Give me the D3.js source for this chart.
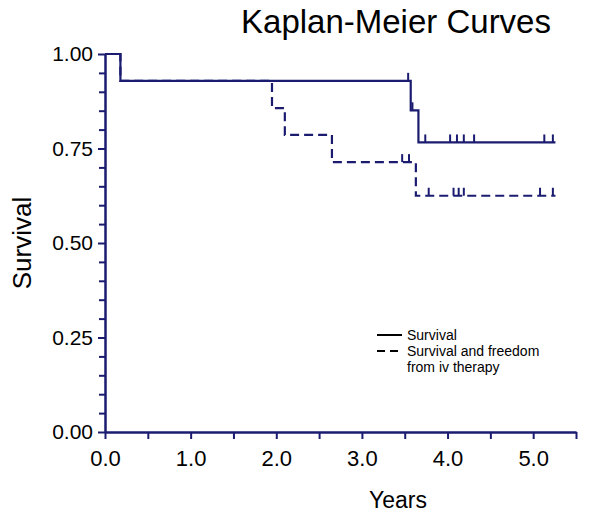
<!DOCTYPE html>
<html>
<head>
<meta charset="utf-8">
<script src="https://cdn.jsdelivr.net/npm/d3@7"></script>
<style>
  html, body { margin: 0; padding: 0; background: #fff; }
  svg { display: block; font-family: "Liberation Sans", Arial, sans-serif; }
</style>
</head>
<body>
<svg id="chart" width="601" height="522"></svg>
<script>
// ---- data ----
const solidTimes = [0, 0.18, 3.57, 3.66];
const solidSurv  = [1.0, 0.929, 0.851, 0.766];
const solidEnd   = 5.26;
const solidCensor = [3.54, 3.59, 3.74, 4.03, 4.11, 4.19, 4.31, 5.13, 5.23];

const dashTimes = [0, 0.18, 1.95, 2.10, 2.65, 3.63];
const dashSurv  = [1.0, 0.929, 0.857, 0.786, 0.714, 0.625];
const dashEnd   = 5.26;
const dashCensor = [3.47, 3.55, 3.78, 4.07, 4.13, 4.19, 5.08, 5.23];

const xMajorTicks = [0, 1, 2, 3, 4, 5];
const xMinorTicks = [0.5, 1.5, 2.5, 3.5, 4.5, 5.5];
const yMajorTicks = [0, 0.25, 0.5, 0.75, 1.0];
const yMinorTicks = [0.05, 0.1, 0.15, 0.2, 0.3, 0.35, 0.4, 0.45, 0.55, 0.6, 0.65, 0.7, 0.8, 0.85, 0.9, 0.95];

const legendLabels = ["Survival", ["Survival and freedom", "from iv therapy"]];

// ---- drawing ----
const navy = "#1b1c70";
const svg = d3.select("#chart");
const x = d3.scaleLinear().domain([0, 5.5]).range([105, 576]);
const y = d3.scaleLinear().domain([0, 1]).range([432, 54]);

// axes
const gxm = svg.append("g").attr("transform", `translate(0,${y(0)})`);
gxm.call(d3.axisBottom(x).tickValues(xMinorTicks).tickSize(7).tickSizeOuter(0).tickFormat(""));
const gx = svg.append("g").attr("transform", `translate(0,${y(0)})`);
gx.call(d3.axisBottom(x).tickValues(xMajorTicks).tickSize(7).tickSizeOuter(0).tickFormat(d3.format(".1f")));
const gym = svg.append("g").attr("transform", `translate(${x(0)},0)`);
gym.call(d3.axisLeft(y).tickValues(yMinorTicks).tickSize(6).tickSizeOuter(0).tickFormat(""));
const gy = svg.append("g").attr("transform", `translate(${x(0)},0)`);
gy.call(d3.axisLeft(y).tickValues(yMajorTicks).tickSize(7).tickSizeOuter(0).tickFormat(d3.format(".2f")));

svg.selectAll(".domain, .tick line").attr("stroke", navy).attr("stroke-width", 2);
gx.selectAll("text").attr("font-size", 22).attr("fill", "#000").attr("dy", "1.1em")
  .attr("font-family", "Liberation Sans, Arial, sans-serif");
gy.selectAll("text").attr("font-size", 21).attr("fill", "#000").attr("x", -12)
  .attr("font-family", "Liberation Sans, Arial, sans-serif");

// curves
function stepData(times, surv, end) {
  const pts = times.map((t, i) => [t, surv[i]]);
  pts.push([end, surv[surv.length - 1]]);
  return pts;
}
function survAt(times, surv, t) {
  let s = surv[0];
  times.forEach((tt, i) => { if (tt <= t) s = surv[i]; });
  return s;
}
const line = d3.line().x(d => x(d[0])).y(d => y(d[1])).curve(d3.curveStepAfter);

svg.append("path").datum(stepData(dashTimes, dashSurv, dashEnd))
  .attr("d", line).attr("fill", "none").attr("stroke", navy)
  .attr("stroke-width", 2.2).attr("stroke-dasharray", "9,5");
svg.append("path").datum(stepData(solidTimes, solidSurv, solidEnd))
  .attr("d", line).attr("fill", "none").attr("stroke", navy).attr("stroke-width", 2.2);

svg.append("g").selectAll("line").data(solidCensor).join("line")
  .attr("x1", d => x(d)).attr("x2", d => x(d))
  .attr("y1", d => y(survAt(solidTimes, solidSurv, d)))
  .attr("y2", d => y(survAt(solidTimes, solidSurv, d)) - 8)
  .attr("stroke", navy).attr("stroke-width", 2);
svg.append("g").selectAll("line").data(dashCensor).join("line")
  .attr("x1", d => x(d)).attr("x2", d => x(d))
  .attr("y1", d => y(survAt(dashTimes, dashSurv, d)))
  .attr("y2", d => y(survAt(dashTimes, dashSurv, d)) - 8)
  .attr("stroke", navy).attr("stroke-width", 2);

// titles
svg.append("text").attr("x", 396).attr("y", 33).attr("text-anchor", "middle")
  .attr("font-size", 33).attr("fill", "#000").text("Kaplan-Meier Curves");
svg.append("text").attr("x", 398).attr("y", 508).attr("text-anchor", "middle")
  .attr("font-size", 23).attr("fill", "#000").text("Years");
svg.append("text").attr("transform", "translate(31,243) rotate(-90)")
  .attr("text-anchor", "middle").attr("font-size", 26).attr("fill", "#000").text("Survival");

// legend
const lg = svg.append("g");
lg.append("line").attr("x1", 377).attr("x2", 402).attr("y1", 335).attr("y2", 335)
  .attr("stroke", "#000").attr("stroke-width", 2);
lg.append("line").attr("x1", 377).attr("x2", 402).attr("y1", 351).attr("y2", 351)
  .attr("stroke", "#000").attr("stroke-width", 2).attr("stroke-dasharray", "8,5");
lg.append("text").attr("x", 407).attr("y", 340).attr("font-size", 14).attr("fill", "#000")
  .text(legendLabels[0]);
const t2 = lg.append("text").attr("x", 407).attr("y", 356).attr("font-size", 14).attr("fill", "#000");
t2.selectAll("tspan").data(legendLabels[1]).join("tspan")
  .attr("x", 407).attr("dy", (d, i) => i === 0 ? 0 : 16).text(d => d);
</script>
</body>
</html>
